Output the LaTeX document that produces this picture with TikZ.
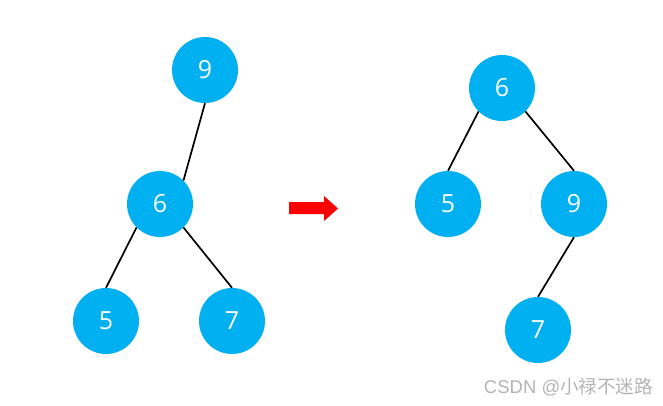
\documentclass[tikz,border=0pt]{standalone}
\usepackage{fontspec}
\setmainfont{Open Sans}
\newfontfamily\wmfont{Liberation Sans}
\newfontfamily\cjkfont{Noto Sans CJK SC}
\definecolor{nodeblue}{HTML}{00B0F0}
\definecolor{wmgray}{HTML}{B4B4B4}
\begin{document}
\begin{tikzpicture}[x=1pt,y=-1pt,
  tnode/.style={circle,fill=nodeblue,minimum size=66pt,inner sep=0pt,text=white,font=\fontsize{25}{25}\selectfont},
  edge/.style={draw=black,line width=1.7pt}]
\useasboundingbox[fill=white] (0,0) rectangle (663,405);
% left tree
\node[tnode] (L9) at (205,70) {9};
\node[tnode] (L6) at (160,204) {6};
\node[tnode] (L5) at (106,321) {5};
\node[tnode] (L7) at (232,321) {7};
\draw[edge] (L9.south) -- (L6.north east);
\draw[edge] (L6.south west) -- (L5.north);
\draw[edge] (L6.south east) -- (L7.north);
% arrow
\fill[red] (289,202) -- (324,202) -- (324,196) -- (338,208.5) -- (324,221) -- (324,214) -- (289,214) -- cycle;
% right tree
\node[tnode] (R6) at (502,88) {6};
\node[tnode] (R5) at (448,204) {5};
\node[tnode] (R9) at (574,204) {9};
\node[tnode] (R7) at (538,330) {7};
\draw[edge] (R6.south west) -- (R5.north);
\draw[edge] (R6.south east) -- (R9.north);
\draw[edge] (R9.south) -- (R7.north);
% watermark
\node[anchor=east,text=wmgray,font=\wmfont\fontsize{18.5}{18.5}\selectfont,inner sep=0pt] (wm) at (653,387) {CSDN @{\cjkfont 小禄不迷路}};
\end{tikzpicture}
\end{document}
